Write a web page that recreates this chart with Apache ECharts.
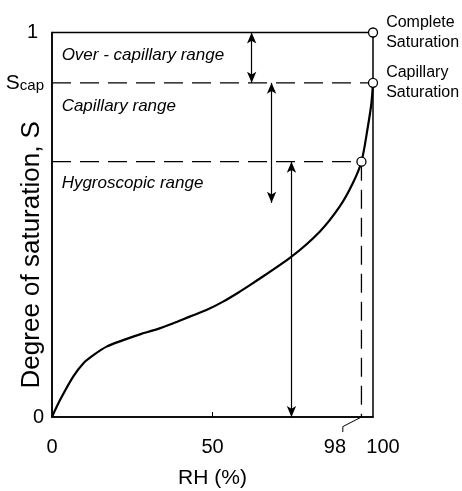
<!DOCTYPE html>
<html><head><meta charset="utf-8">
<script src="https://cdn.jsdelivr.net/npm/echarts@6/dist/echarts.min.js"></script>
<style>html,body{margin:0;padding:0;background:#fff}#c{width:462px;height:491px}</style>
</head><body><div id="c"></div>
<script>
// Retention curve: degree of saturation S vs relative humidity RH
const rh  = [0, 2.5, 6.6, 9.8, 12.9, 17.0, 22.2, 27.4, 32.6, 37.8, 42.9, 48.1, 53.3, 58.5, 62.6, 74.6, 83.4, 89.6, 93.7, 96.4, 98.4, 99.5, 100];
const sat = [0, 0.044, 0.105, 0.140, 0.161, 0.183, 0.200, 0.215, 0.228, 0.244, 0.261, 0.278, 0.300, 0.326, 0.348, 0.417, 0.482, 0.547, 0.608, 0.664, 0.755, 0.816, 0.869];

const sCap = 0.869;      // capillary saturation
const rhHyg = 96.4;      // hygroscopic limit (labelled 98)
const sHyg = 0.664;

const xTickValues = [0, 50, rhHyg, 100];
const xTickLabels = ['0', '50', '98', '100'];
const yTickValues = [0, sCap, 1];
const yTickLabels = ['0', 'Scap', '1'];

const rangeNames = ['Over - capillary range', 'Capillary range', 'Hygroscopic range'];
const rangeLabelAt = [[3, 0.942], [3, 0.809], [3, 0.609]];

// double arrows: [x, yFrom, yTo]
const arrowSpans = [[62.2, 1, sCap], [68.4, sCap, 0.557], [74.6, sHyg, 0]];

const pointNames = ['Complete\nSaturation', 'Capillary\nSaturation', ''];
const pointsRH = [100, 100, rhHyg];
const pointsS = [1, sCap, sHyg];

const leader = [[rhHyg, 0], [90.6, -0.025], [90.6, -0.039]];

const FONT = 'Liberation Sans, Arial, sans-serif';
const chart = echarts.init(document.getElementById('c'));

const dash = { color: '#000', width: 1.3, type: [19, 9] };

chart.setOption({
  animation: false,
  backgroundColor: '#fff',
  textStyle: { fontFamily: FONT, color: '#000' },
  grid: { left: 52, right: 89, top: 32.5, bottom: 74, show: true, borderColor: '#000', borderWidth: 1.5, containLabel: false, outerBoundsMode: 'none' },
  xAxis: {
    type: 'value', min: 0, max: 100,
    name: 'RH (%)', nameLocation: 'middle', nameGap: 51, nameMoveOverlap: false,
    nameTextStyle: { fontSize: 21, color: '#000', fontFamily: FONT },
    axisLine: { show: true, lineStyle: { color: '#000', width: 1.5 } },
    splitLine: { show: false },
    axisTick: { show: true, customValues: [50], inside: true, length: 5, lineStyle: { color: '#000', width: 1 } },
    axisLabel: {
      customValues: xTickValues, margin: 20, fontSize: 20, color: '#000', fontFamily: FONT,
      formatter: function (v) {
        const i = xTickValues.findIndex(t => Math.abs(t - v) < 1e-6);
        const t = i >= 0 ? xTickLabels[i] : '';
        if (t === '98') return '{l|' + t + '}';
        if (t === '100') return '{r|' + t + '}';
        return t;
      },
      rich: {
        l: { fontSize: 20, color: '#000', fontFamily: FONT, padding: [0, 53, 0, 0] },
        r: { fontSize: 20, color: '#000', fontFamily: FONT, padding: [0, 0, 0, 20] }
      }
    }
  },
  yAxis: {
    type: 'value', min: 0, max: 1,
    name: 'Degree of saturation, S', nameLocation: 'middle', nameGap: 7, nameRotate: 90, nameMoveOverlap: false,
    nameTextStyle: { fontSize: 26, color: '#000', fontFamily: FONT, padding: [0, 0, 0, -60] },
    axisLine: { show: true, lineStyle: { color: '#000', width: 1.5 } },
    splitLine: { show: false },
    axisTick: { show: false },
    axisLabel: {
      customValues: yTickValues, margin: 8, fontSize: 20, color: '#000', fontFamily: FONT,
      formatter: function (v) {
        const i = yTickValues.findIndex(t => Math.abs(t - v) < 1e-6);
        const t = i >= 0 ? yTickLabels[i] : '';
        if (t === 'Scap') return '{s|S}{c|cap}';
        if (t === '1') return '{o|1}';
        return t;
      },
      rich: {
        s: { fontSize: 21, color: '#000', fontFamily: FONT, verticalAlign: 'bottom' },
        c: { fontSize: 15, color: '#000', fontFamily: FONT, verticalAlign: 'bottom', padding: [0, 0, 0, 0] },
        o: { fontSize: 20, color: '#000', fontFamily: FONT, padding: [0, 6, 0, 0] }
      }
    }
  },
  series: [
    { type: 'line', data: [[0, sCap], [100, sCap]], symbol: 'none', lineStyle: dash, z: 2, silent: true },
    { type: 'line', data: [[0, sHyg], [rhHyg, sHyg]], symbol: 'none', lineStyle: dash, z: 2, silent: true },
    { type: 'line', data: [[rhHyg, sHyg], [rhHyg, 0]], symbol: 'none', lineStyle: dash, z: 2, silent: true },
    { type: 'line', data: leader, symbol: 'none', clip: false, lineStyle: { color: '#000', width: 1 }, z: 2, silent: true },
    {
      type: 'line', data: rh.map((x, i) => [x, sat[i]]), symbol: 'none', smooth: 0.3,
      lineStyle: { color: '#000', width: 2.2 }, z: 3, silent: true
    },
    {
      type: 'scatter', symbolSize: 0, silent: true,
      itemStyle: { opacity: 1 },
      data: rangeLabelAt.map((p, i) => ({ value: p, name: rangeNames[i] })),
      label: { show: true, opacity: 1, position: 'right', distance: 0, formatter: '{b}', fontSize: 17, fontStyle: 'italic', color: '#000', fontFamily: FONT },
      markLine: {
        silent: true, symbol: ['arrow', 'arrow'], symbolSize: [7, 11],
        label: { show: false },
        lineStyle: { color: '#000', width: 1.2, type: 'solid', opacity: 1 },
        data: arrowSpans.map(a => [{ coord: [a[0], a[1]] }, { coord: [a[0], a[2]] }])
      }
    },
    {
      type: 'scatter', symbol: 'circle', symbolSize: 9, clip: false, z: 5, silent: true,
      itemStyle: { color: '#fff', borderColor: '#000', borderWidth: 1.3, opacity: 1 },
      data: pointsRH.map((x, i) => ({ value: [x, pointsS[i]], name: pointNames[i] })),
      label: { show: true, opacity: 1, position: 'right', distance: 8, formatter: '{b}', fontSize: 16, lineHeight: 20, color: '#000', fontFamily: FONT, align: 'left' }
    }
  ]
});
</script>
</body></html>
